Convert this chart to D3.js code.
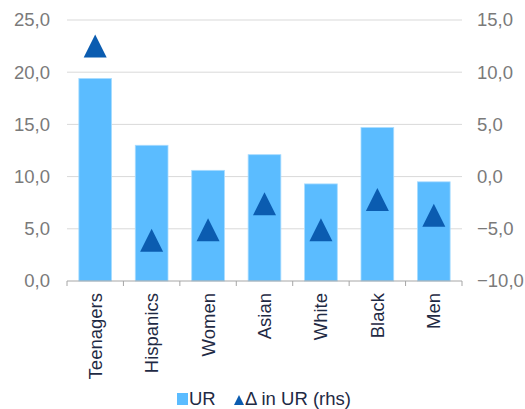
<!DOCTYPE html>
<html>
<head>
<meta charset="utf-8">
<script src="https://cdn.jsdelivr.net/npm/d3@7"></script>
<style>
  body { margin: 0; background: #fff; }
  svg text { font-family: "Liberation Sans", Arial, sans-serif; }
</style>
</head>
<body>
<div id="chart"></div>
<script>
// chart data
const categories = ["Teenagers", "Hispanics", "Women", "Asian", "White", "Black", "Men"];
const urValues = [19.4, 13.0, 10.6, 12.1, 9.3, 14.7, 9.5];
const deltaValues = [12.5, -6.1, -5.1, -2.6, -5.1, -2.2, -3.7];
const leftTicks = [0, 5, 10, 15, 20, 25];
const rightTicks = [-10, -5, 0, 5, 10, 15];

const W = 525, H = 409;
const margin = {top: 20, right: 63, bottom: 128, left: 67};
const width = W - margin.left - margin.right;
const height = H - margin.top - margin.bottom;
const fontSize = "18.5px";

const fmt = d => d3.format(".1f")(d).replace(".", ",");

// triangle marker, centred on its bounding box
const triangle = s => `M0,${-s / 2}L${s / 2},${s / 2}L${-s / 2},${s / 2}Z`;

const svg = d3.select("#chart")
  .append("svg")
  .attr("width", W)
  .attr("height", H);

const g = svg.append("g")
  .attr("transform", `translate(${margin.left},${margin.top})`);

const x = d3.scaleBand().domain(categories).range([0, width]).padding(0);
const y = d3.scaleLinear().domain([0, 25]).range([height, 0]);
const y2 = d3.scaleLinear().domain([-10, 15]).range([height, 0]);

// gridlines
g.append("g")
  .selectAll("line")
  .data(leftTicks.slice(1))
  .join("line")
  .attr("x1", 0)
  .attr("x2", width)
  .attr("y1", d => y(d))
  .attr("y2", d => y(d))
  .attr("stroke", "#d9d9d9")
  .attr("stroke-width", 1);

// bars
const barW = x.bandwidth() * 0.58;
g.append("g")
  .selectAll("rect")
  .data(urValues)
  .join("rect")
  .attr("x", (d, i) => x(categories[i]) + (x.bandwidth() - barW) / 2)
  .attr("y", d => y(d))
  .attr("width", barW)
  .attr("height", d => height - y(d))
  .attr("fill", "#5bbcff")
  .attr("stroke", "#a9dcff")
  .attr("stroke-width", 0.8);

// triangles on right axis
g.append("g")
  .selectAll("path")
  .data(deltaValues)
  .join("path")
  .attr("d", triangle(23))
  .attr("transform", (d, i) => `translate(${x(categories[i]) + x.bandwidth() / 2},${y2(d)})`)
  .attr("fill", "#0b5cb0");

// left axis
const yAxis = g.append("g")
  .call(d3.axisLeft(y).tickValues(leftTicks).tickFormat(fmt).tickSize(0).tickPadding(17));
yAxis.select(".domain").remove();
yAxis.selectAll("text").attr("fill", "#7a7a7a").style("font-size", fontSize);

// right axis
const yAxis2 = g.append("g")
  .attr("transform", `translate(${width},0)`)
  .call(d3.axisRight(y2).tickValues(rightTicks).tickFormat(fmt).tickSize(0).tickPadding(15));
yAxis2.select(".domain").remove();
yAxis2.selectAll("text").attr("fill", "#7a7a7a").style("font-size", fontSize);

// bottom axis
const xAxis = g.append("g")
  .attr("transform", `translate(0,${height})`);
xAxis.append("line")
  .attr("x1", 0).attr("x2", width)
  .attr("stroke", "#a6a6a6");
xAxis.selectAll("line.tk")
  .data(categories.map(c => x(c)).concat([width]))
  .join("line")
  .attr("class", "tk")
  .attr("x1", d => d).attr("x2", d => d)
  .attr("y1", 0).attr("y2", 5)
  .attr("stroke", "#a6a6a6");
xAxis.selectAll("text")
  .data(categories)
  .join("text")
  .attr("transform", d => `translate(${x(d) + x.bandwidth() / 2},12) rotate(-90)`)
  .attr("dy", "0.35em")
  .attr("text-anchor", "end")
  .attr("fill", "#1f2a44")
  .style("font-size", fontSize)
  .text(d => d);

// legend
const legend = svg.append("g").attr("transform", "translate(177,393)");
legend.append("rect")
  .attr("x", 0).attr("y", 0).attr("width", 11).attr("height", 12)
  .attr("fill", "#5bbcff");
legend.append("text")
  .attr("x", 12).attr("y", 12)
  .attr("fill", "#1f2a44")
  .style("font-size", fontSize)
  .text("UR");
legend.append("path")
  .attr("d", triangle(10))
  .attr("transform", "translate(62,7)")
  .attr("fill", "#0b5cb0");
legend.append("text")
  .attr("x", 68).attr("y", 12)
  .attr("fill", "#1f2a44")
  .style("font-size", fontSize)
  .text("Δ in UR (rhs)");
</script>
</body>
</html>
